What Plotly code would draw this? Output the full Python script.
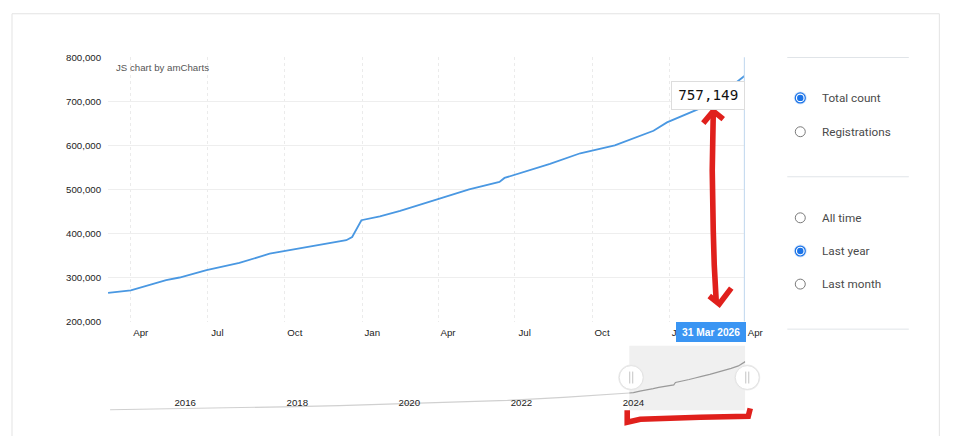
import plotly.graph_objects as go

W, H = 965, 441

# ---------------- data ----------------
main_dates = ["2024-03-05", "2024-04-01", "2024-05-13", "2024-05-29", "2024-06-30",
              "2024-08-08", "2024-09-13", "2024-10-19", "2024-12-13", "2024-12-20",
              "2024-12-31", "2025-01-22", "2025-02-15", "2025-03-30", "2025-05-08",
              "2025-06-13", "2025-06-19", "2025-08-12", "2025-09-17", "2025-10-28",
              "2025-12-13", "2025-12-29", "2026-02-14", "2026-03-31"]
main_values = [265000, 271000, 294000, 300000, 317000,
               333000, 354000, 366000, 384600, 392000,
               430000, 439000, 451000, 476600, 500000,
               517000, 526000, 558000, 582000, 600000,
               633000, 652000, 690000, 757149]

history_dates = ["2014-11-28", "2016-01-01", "2017-01-01", "2018-01-01", "2019-01-01",
                 "2020-01-01", "2021-01-01", "2022-01-01", "2023-01-01", "2024-01-01"]
history_values = [2000, 15000, 30000, 48000, 68000, 92000, 118000, 148000, 195000, 250000]

y_ticks = [200000, 300000, 400000, 500000, 600000, 700000, 800000]
x_tick_dates = ["2024-04-01", "2024-07-01", "2024-10-01", "2025-01-01", "2025-04-01",
                "2025-07-01", "2025-10-01", "2026-01-01", "2026-04-01"]
x_tick_labels = ["Apr", "Jul", "Oct", "Jan", "Apr", "Jul", "Oct", "Jan", "Apr"]
year_tick_dates = ["2016-01-01", "2018-01-01", "2020-01-01", "2022-01-01", "2024-01-01", "2026-01-01"]
year_tick_labels = ["2016", "2018", "2020", "2022", "2024", "2026"]

metric_options = ["Total count", "Registrations"]
metric_selected = "Total count"
period_options = ["All time", "Last year", "Last month"]
period_selected = "Last year"

main_range = ["2024-03-05", "2026-04-01"]
nav_range = ["2014-11-28", "2026-03-31"]

# ---------------- helpers ----------------
# the rendered page is fitted slightly smaller; compensate so targets land on reference pixels
S = 0.981
OY = 4.2

def px(x):
    return min(max(x / S / W, 0), 1)

def py(y):
    return min(max(1 - ((y - OY) / S) / H, 0), 1)

def sz(v):
    return v / S

def isz(v):
    return int(round(v / S))

LINE = "#4a98e2"
shapes = []
annotations = []

fig = go.Figure()

# navigator traces
fig.add_trace(go.Scatter(x=history_dates + main_dates[:1], y=history_values + main_values[:1],
                         mode="lines", line=dict(color="#d0d0d0", width=1.2),
                         xaxis="x2", yaxis="y2", hoverinfo="skip", showlegend=False))
fig.add_trace(go.Scatter(x=main_dates, y=main_values, mode="lines",
                         line=dict(color="#9a9a9a", width=1.2),
                         xaxis="x2", yaxis="y2", hoverinfo="skip", showlegend=False))
# main trace
fig.add_trace(go.Scatter(x=main_dates, y=main_values, mode="lines",
                         line=dict(color=LINE, width=1.8), hoverinfo="skip", showlegend=False))

# card border (top, left, right)
card = dict(color="#e3e3e3", width=1)
shapes.append(dict(type="line", xref="paper", yref="paper", x0=px(12), x1=px(939),
                   y0=py(12), y1=py(12), line=card, layer="below"))
shapes.append(dict(type="line", xref="paper", yref="paper", x0=px(12), x1=px(12),
                   y0=py(12), y1=0, line=card, layer="below"))
shapes.append(dict(type="line", xref="paper", yref="paper", x0=px(939), x1=px(939),
                   y0=py(12), y1=0, line=card, layer="below"))

# navigator selection background
shapes.append(dict(type="rect", xref="x2", yref="paper", x0=main_range[0], x1=nav_range[1],
                   y0=py(411), y1=py(346), fillcolor="#f0f0f0", line=dict(width=0), layer="below"))

# cursor line
last_date = main_dates[-1]
shapes.append(dict(type="line", xref="x", yref="paper", x0=last_date, x1=last_date,
                   y0=py(321.7), y1=py(55.7), line=dict(color="#c8dcf0", width=1.2)))

# navigator grips
for gx in (631, 747):
    shapes.append(dict(type="circle", xref="paper", yref="paper",
                       x0=px(gx - 13), x1=px(gx + 13), y0=py(378 + 13), y1=py(378 - 13),
                       fillcolor="#ececec", line=dict(width=0)))
    shapes.append(dict(type="circle", xref="paper", yref="paper",
                       x0=px(gx - 12), x1=px(gx + 12), y0=py(378 + 12), y1=py(378 - 12),
                       fillcolor="#ffffff", line=dict(color="#e2e2e2", width=1)))
    for dx in (-1.5, 1.5):
        shapes.append(dict(type="line", xref="paper", yref="paper",
                           x0=px(gx + dx), x1=px(gx + dx), y0=py(384), y1=py(372),
                           line=dict(color="#c4c4c4", width=1)))

# right panel separators
for sy in (56, 176, 329.3):
    shapes.append(dict(type="line", xref="paper", yref="paper", x0=px(787), x1=px(908.5),
                       y0=py(sy), y1=py(sy), line=dict(color="#e0e4e8", width=1)))

# radio buttons
def radio(yc, label, checked):
    if checked:
        shapes.append(dict(type="circle", xref="paper", yref="paper",
                           x0=px(800 - 6.5), x1=px(800 + 6.5), y0=py(yc + 6.5), y1=py(yc - 6.5),
                           fillcolor="#d5e5fa", line=dict(width=0)))
        shapes.append(dict(type="circle", xref="paper", yref="paper",
                           x0=px(800 - 5), x1=px(800 + 5), y0=py(yc + 5), y1=py(yc - 5),
                           fillcolor="#ffffff", line=dict(color="#1a73e8", width=1.2)))
        shapes.append(dict(type="circle", xref="paper", yref="paper",
                           x0=px(800 - 3.2), x1=px(800 + 3.2), y0=py(yc + 3.2), y1=py(yc - 3.2),
                           fillcolor="#1a73e8", line=dict(width=0)))
    else:
        shapes.append(dict(type="circle", xref="paper", yref="paper",
                           x0=px(800 - 5), x1=px(800 + 5), y0=py(yc + 5), y1=py(yc - 5),
                           fillcolor="#ffffff", line=dict(color="#7a7a7a", width=1)))
    annotations.append(dict(xref="paper", yref="paper", x=px(820), y=py(yc), text=label,
                            showarrow=False, xanchor="left", yanchor="middle",
                            font=dict(family="Roboto", size=sz(11.5), color="#4a4a4a")))

for yc, lab in zip((96.7, 130.7), metric_options):
    radio(yc, lab, lab == metric_selected)
for yc, lab in zip((217.3, 250.7, 284), period_options):
    radio(yc, lab, lab == period_selected)

# red hand-drawn marks
def path(points):
    s = "M " + " L ".join(f"{px(x):.5f},{py(y):.5f}" for x, y in points)
    return s

RED = "#e0201c"
red_paths = [
    [(713, 112), (712, 170), (713, 230), (714, 265), (716, 302)],
    [(703, 122), (713, 110), (723, 118)],
    [(709, 296), (719, 304), (731, 288)],
    [(627, 411), (627, 423), (640, 420), (700, 418), (748, 417), (750, 409)],
]
for pts in red_paths:
    shapes.append(dict(type="path", xref="paper", yref="paper", path=path(pts),
                       line=dict(color=RED, width=sz(5.5))))

# amCharts credit
annotations.append(dict(xref="paper", yref="paper", x=px(114), y=py(66), text="JS chart by amCharts",
                        showarrow=False, xanchor="left", yanchor="middle",
                        font=dict(family="Liberation Sans", size=sz(9.5), color="#555555")))

# value tooltip
annotations.append(dict(xref="x", yref="paper", x=last_date, y=py(79.5),
                        text=f"{main_values[-1]:,}", showarrow=False,
                        xanchor="right", yanchor="top", xshift=1,
                        bgcolor="#ffffff", bordercolor="#dddddd", borderwidth=1, borderpad=sz(5),
                        width=sz(61), height=sz(16),
                        font=dict(family="DejaVu Sans Mono", size=sz(14), color="#111111")))
# date tooltip
annotations.append(dict(xref="x", yref="paper", x=last_date, y=py(321.7),
                        text="<b>31 Mar 2026</b>", showarrow=False,
                        xanchor="right", yanchor="top", xshift=2,
                        bgcolor="#3a95f3", borderwidth=0, borderpad=sz(4),
                        width=sz(61), height=sz(12),
                        font=dict(family="Liberation Sans", size=sz(10), color="#ffffff")))

axis_font = dict(family="Liberation Sans", size=sz(9.5), color="#222222")

fig.update_layout(
    width=W, height=H,
    margin=dict(l=0, r=0, t=0, b=0),
    paper_bgcolor="#ffffff", plot_bgcolor="rgba(0,0,0,0)",
    showlegend=False,
    xaxis=dict(domain=[px(108), px(745)], range=main_range, type="date",
               tickvals=x_tick_dates, ticktext=x_tick_labels, ticks="",
               showgrid=True, gridcolor="#ebebeb", griddash="dot", gridwidth=1,
               zeroline=False, showline=False, tickfont=axis_font,
               ticklabelshift=isz(10), ticklabelstandoff=isz(4), anchor="y", fixedrange=True),
    yaxis=dict(domain=[py(321.7), py(55.7)], range=[200000, 800000],
               tickvals=y_ticks, tickformat=",", ticks="",
               showgrid=True, gridcolor="#eeeeee", gridwidth=1,
               zeroline=False, showline=False, tickfont=axis_font,
               ticklabelstandoff=isz(6), anchor="x", fixedrange=True),
    xaxis2=dict(domain=[px(110), px(745)], range=nav_range, type="date",
                tickvals=year_tick_dates, ticktext=year_tick_labels, ticks="",
                ticklabelposition="inside", ticklabelshift=isz(14),
                showgrid=False, zeroline=False, showline=False, tickfont=axis_font,
                anchor="y2", fixedrange=True),
    yaxis2=dict(domain=[py(412), py(345)], range=[-23000, 1022000],
                showticklabels=False, showgrid=False, zeroline=False, showline=False,
                anchor="x2", fixedrange=True),
    shapes=shapes,
    annotations=annotations,
)

fig.write_html("out.html", config={"displayModeBar": False, "staticPlot": True})
